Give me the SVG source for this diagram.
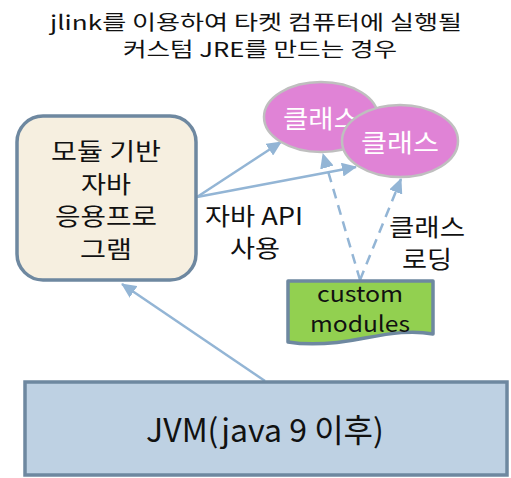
<svg xmlns="http://www.w3.org/2000/svg" width="511" height="478" viewBox="0 0 511 478">
<defs>
<marker id="ah" markerUnits="userSpaceOnUse" markerWidth="16" markerHeight="14" refX="14" refY="7" orient="auto">
<path d="M0,0 L15,7 L0,14 Z" fill="#93b5d5"/>
</marker>
<style>
text{font-family:"Noto Sans CJK KR","Noto Sans",sans-serif;fill:#111;text-anchor:middle}
.conn{stroke:#93b5d5;stroke-width:2.5;fill:none;marker-end:url(#ah)}
.dash{stroke-dasharray:10,7}
.ell{fill:#e083d6;stroke:#bfbfbf;stroke-width:2.5}
text.wt{fill:#fff}
</style>
</defs>
<rect width="511" height="478" fill="#fff"/>
<g id="title">
<text x="256" y="30" font-size="20" textLength="412" lengthAdjust="spacingAndGlyphs">jlink를 이용하여 타켓 컴퓨터에 실행될</text>
<text x="260" y="57" font-size="20" textLength="274" lengthAdjust="spacingAndGlyphs">커스텀 JRE를 만드는 경우</text>
</g>
<g id="connectors">
<line class="conn" x1="265" y1="381" x2="122" y2="284"/>
<line class="conn" x1="197" y1="197" x2="281" y2="142"/>
<line class="conn" x1="197" y1="197" x2="356" y2="167"/>
<line class="conn dash" x1="360" y1="280" x2="323" y2="154"/>
<line class="conn dash" x1="360" y1="280" x2="401" y2="179"/>
</g>
<g id="app">
<rect x="17" y="116" width="179" height="164" rx="26" fill="#f6efe0" stroke="#6e88a0" stroke-width="3.5"/>
<text x="106" y="160" font-size="24" textLength="110" lengthAdjust="spacingAndGlyphs">모듈 기반</text>
<text x="106" y="193" font-size="24" textLength="50" lengthAdjust="spacingAndGlyphs">자바</text>
<text x="106" y="225" font-size="24" textLength="102" lengthAdjust="spacingAndGlyphs">응용프로</text>
<text x="106" y="258" font-size="24" textLength="52" lengthAdjust="spacingAndGlyphs">그램</text>
</g>
<g id="class1">
<ellipse class="ell" cx="321" cy="117" rx="57" ry="35"/>
<text class="wt" x="321" y="128" font-size="25" textLength="76" lengthAdjust="spacingAndGlyphs">클래스</text>
</g>
<g id="class2">
<ellipse class="ell" cx="400" cy="141" rx="58" ry="36"/>
<text class="wt" x="400" y="152" font-size="25" textLength="78" lengthAdjust="spacingAndGlyphs">클래스</text>
</g>
<g id="label-api">
<text x="254" y="225" font-size="24" textLength="98" lengthAdjust="spacingAndGlyphs">자바 API</text>
<text x="255" y="257" font-size="24" textLength="50" lengthAdjust="spacingAndGlyphs">사용</text>
</g>
<g id="label-loading">
<text x="427" y="236" font-size="24" textLength="76" lengthAdjust="spacingAndGlyphs">클래스</text>
<text x="427" y="268" font-size="24" textLength="50" lengthAdjust="spacingAndGlyphs">로딩</text>
</g>
<g id="custom">
<path d="M288,281 H433 V334 C412,330 392,333 365,338 C335,344 312,346 288,342 Z" fill="#92d050" stroke="#6e88a0" stroke-width="3.5" stroke-linejoin="round"/>
<text x="360" y="302" font-size="22" textLength="86" lengthAdjust="spacingAndGlyphs">custom</text>
<text x="360" y="332" font-size="22" textLength="100" lengthAdjust="spacingAndGlyphs">modules</text>
</g>
<g id="jvm">
<rect x="25" y="382" width="482" height="93" fill="#bed1e3" stroke="#6e88a0" stroke-width="3.5"/>
<text x="265" y="442" font-size="32">JVM(java 9 이후)</text>
</g>
</svg>
